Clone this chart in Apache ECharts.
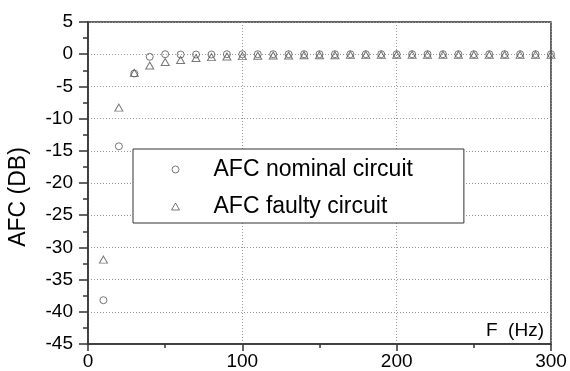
<!DOCTYPE html>
<html>
<head>
<meta charset="utf-8">
<script src="https://cdn.jsdelivr.net/npm/echarts@6/dist/echarts.min.js"></script>
<style>html,body{margin:0;padding:0;background:#fff;}#c{width:570px;height:371px;}</style>
</head>
<body>
<div id="c"></div>
<script>
const freqHz = [10,20,30,40,50,60,70,80,90,100,110,120,130,140,150,160,170,180,190,200,210,220,230,240,250,260,270,280,290,300];
const nominalDb = [-38.2,-14.3,-3.0,-0.4,0,-0.05,-0.05,-0.05,0,0,0,0,0,0,0,0,0,0,0,0,0,0,0,0,0,0,0,0,0,0];
const faultyDb = [-31.9,-8.3,-2.9,-1.75,-1.2,-0.9,-0.6,-0.45,-0.35,-0.3,-0.25,-0.2,-0.2,-0.15,-0.15,-0.15,-0.1,-0.1,-0.1,-0.1,-0.1,-0.1,-0.1,-0.1,-0.1,-0.1,-0.1,-0.1,-0.1,-0.1];
const seriesNames = ['AFC nominal circuit', 'AFC faulty circuit'];
const yAxisTitle = 'AFC (DB)';
const xAxisTitle = 'F  (Hz)';

const FONT = '"Liberation Sans", Arial, sans-serif';
const mk = (xs, ys) => xs.map((x, i) => [x, ys[i]]);
const markStyle = {color: 'rgba(0,0,0,0)', borderColor: '#555', borderWidth: 1};

const chart = echarts.init(document.getElementById('c'));
chart.setOption({
  animation: false,
  backgroundColor: '#fff',
  grid: {left: 88, top: 22, right: 19, bottom: 25, show: true, borderColor: '#333', borderWidth: 1.5, backgroundColor: 'rgba(0,0,0,0)'},
  xAxis: {
    type: 'value', min: 0, max: 300, interval: 100,
    axisLine: {show: true, onZero: false, lineStyle: {color: '#333', width: 1.5}},
    axisTick: {show: true, length: 7, lineStyle: {color: '#333', width: 1.5}},
    minorTick: {show: true, splitNumber: 2, length: 4, lineStyle: {color: '#333', width: 1.5}},
    axisLabel: {color: '#000', fontSize: 19, fontFamily: FONT, margin: 8},
    splitLine: {show: true, lineStyle: {color: '#999', width: 1, type: [1, 2]}}
  },
  yAxis: {
    type: 'value', min: -45, max: 5, interval: 5,
    axisLine: {show: true, onZero: false, lineStyle: {color: '#333', width: 1.5}},
    axisTick: {show: true, length: 9, lineStyle: {color: '#333', width: 1.5}},
    minorTick: {show: true, splitNumber: 2, length: 5, lineStyle: {color: '#333', width: 1.5}},
    axisLabel: {color: '#000', fontSize: 19, fontFamily: FONT, margin: 15},
    splitLine: {show: true, lineStyle: {color: '#999', width: 1, type: [1, 2]}}
  },
  legend: {
    orient: 'vertical', left: 133, top: 149,
    padding: [9, 51, 5, 38],
    itemWidth: 8, itemHeight: 7, itemGap: 14,
    symbolKeepAspect: true,
    borderColor: '#333', borderWidth: 1, backgroundColor: '#fff',
    textStyle: {color: '#000', fontSize: 23, fontFamily: FONT, lineHeight: 20},
    formatter: (name) => '{t|' + name + '}',
    textStyle: {color: '#000', fontSize: 23, fontFamily: FONT, lineHeight: 20,
      rich: {t: {color: '#000', fontSize: 23, fontFamily: FONT, lineHeight: 20, padding: [0, 0, 0, 29]}}},
    itemStyle: markStyle,
    data: [{name: seriesNames[0], icon: 'circle'}, {name: seriesNames[1], icon: 'triangle'}]
  },
  graphic: [
    {type: 'text', x: 19, y: 197, rotation: Math.PI / 2,
     style: {text: yAxisTitle, font: '23px ' + FONT, fill: '#000', textAlign: 'center', textVerticalAlign: 'middle'}},
    {type: 'text', right: 26, top: 321,
     style: {text: xAxisTitle, font: '19px ' + FONT, fill: '#000'}}
  ],
  series: [
    {name: seriesNames[0], type: 'scatter', symbol: 'circle', symbolSize: 7, data: mk(freqHz, nominalDb), itemStyle: markStyle, z: 3},
    {name: seriesNames[1], type: 'scatter', symbol: 'triangle', symbolSize: [8, 7], data: mk(freqHz, faultyDb), itemStyle: markStyle, z: 3}
  ]
});
</script>
</body>
</html>
